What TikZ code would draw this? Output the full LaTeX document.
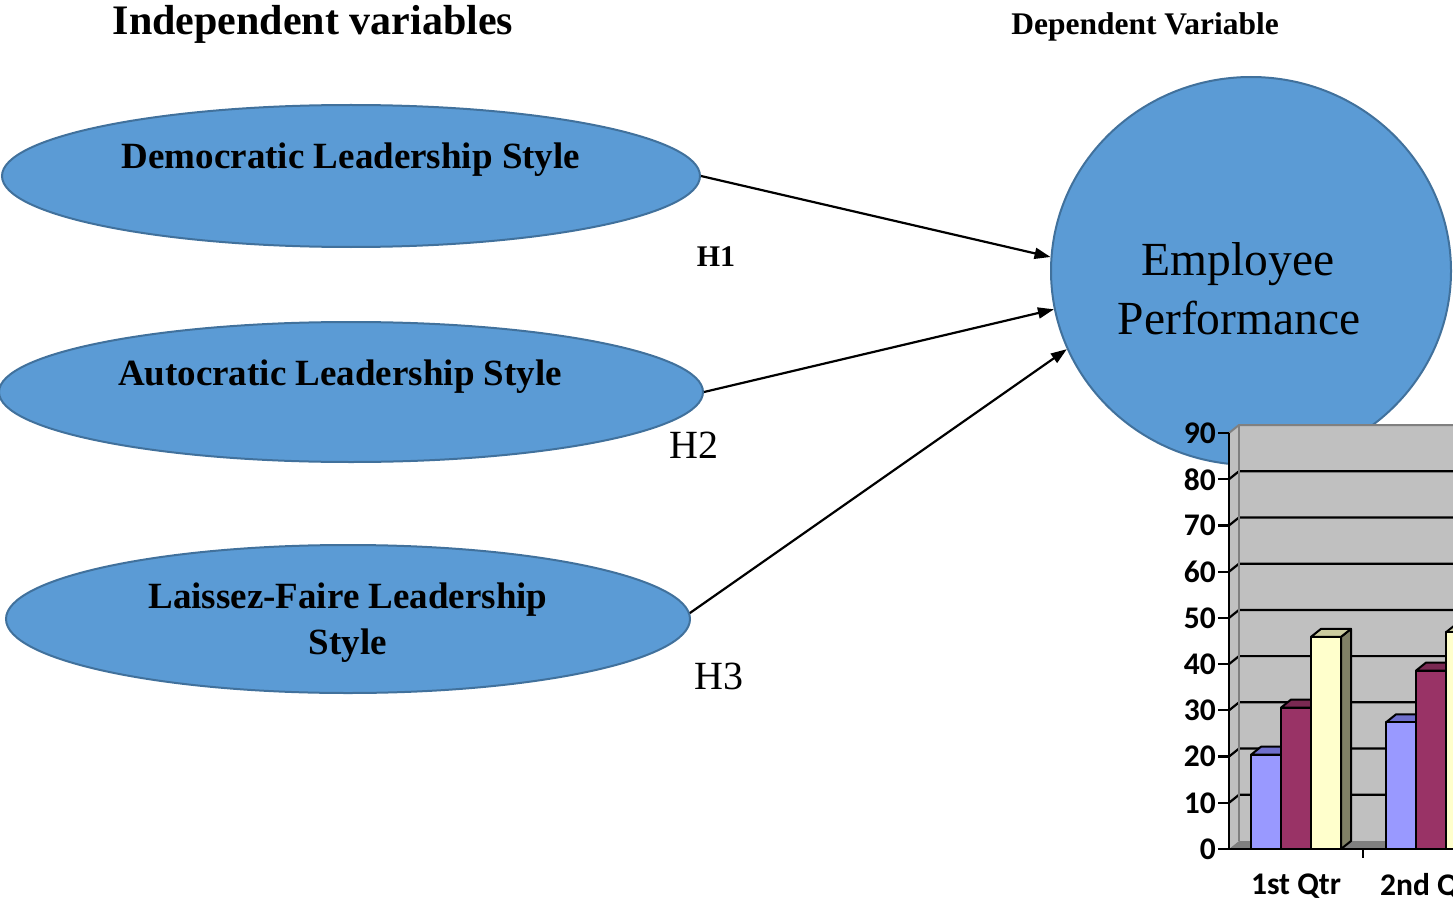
\documentclass[tikz,border=0pt]{standalone}
\usepackage{fontspec}
\setmainfont{Liberation Serif}
\newfontfamily\chartfont{Carlito}
\usetikzlibrary{shapes.geometric,arrows.meta}

\definecolor{varfill}{HTML}{5B9BD5}
\definecolor{varline}{HTML}{41719C}
\definecolor{wallgrey}{HTML}{C0C0C0}
\definecolor{floorgrey}{HTML}{808080}
\definecolor{edgegrey}{HTML}{808080}
% bar colours: front (F), top (T) and side (S) faces
\definecolor{bF}{HTML}{9999FF}\definecolor{bT}{HTML}{6F6FCC}\definecolor{bS}{HTML}{5C5CB0}
\definecolor{mF}{HTML}{993366}\definecolor{mT}{HTML}{7A2952}\definecolor{mS}{HTML}{5C1F3D}
\definecolor{yF}{HTML}{FFFFCC}\definecolor{yT}{HTML}{CCCCA0}\definecolor{yS}{HTML}{808066}

\tikzset{
  varshape/.style={draw=varline, line width=2pt, fill=varfill, inner sep=0pt},
  varellipse/.style={varshape, ellipse},
  vartext/.style={font=\bfseries\fontsize{37}{46}\selectfont, align=center, inner sep=0pt},
  hyp/.style={font=\fontsize{40}{48}\selectfont, inner sep=0pt},
  link/.style={line width=2.2pt, -{Triangle[length=16pt,width=11pt]}},
  axislbl/.style={font=\chartfont\bfseries\fontsize{31.5}{36}\selectfont, inner sep=0pt},
  grid3d/.style={line width=2.2pt, black},
  baredge/.style={draw=black, line width=2pt, line join=round}
}

\begin{document}
\begin{tikzpicture}[x=1pt, y=-1pt]
\useasboundingbox (0,0) rectangle (1453,904);
\begin{scope}
\clip (0,0) rectangle (1453,904);

% headings
\node[font=\bfseries\fontsize{42}{50}\selectfont, inner sep=0pt] (indep) at (313,24) {Independent variables};
\node[font=\bfseries\fontsize{31.5}{38}\selectfont, inner sep=0pt] (dep) at (1145,27) {Dependent Variable};

% independent variables
\node[varellipse, minimum width=698pt, minimum height=142pt] (dem) at (351,176) {};
\node[vartext] (demtext) at (351,160) {Democratic Leadership Style};

\node[varellipse, minimum width=704pt, minimum height=140pt] (aut) at (351,392) {};
\node[vartext] (auttext) at (340,377) {Autocratic Leadership Style};

\node[varellipse, minimum width=684pt, minimum height=148pt] (lf) at (348,619) {};
\node[vartext] (lftext) at (348,623) {Laissez-Faire Leadership\\Style};

% dependent variable
\node[varellipse, minimum width=400pt, minimum height=388pt] (emp) at (1251,271) {};
\node[font=\fontsize{47.5}{59}\selectfont, inner sep=0pt, anchor=base] (emp1) at (1238,275) {Employee};
\node[font=\fontsize{47.5}{59}\selectfont, inner sep=0pt, anchor=base] (emp2) at (1239,334) {Performance};

% hypotheses
\draw[link] (dem.east) -- (emp.176);
\draw[link] (aut.east) -- (emp.191.5);
\draw[link] (lf.1.5) -- (emp.203);

\node[font=\bfseries\fontsize{30}{36}\selectfont, inner sep=0pt] (h1) at (716,257) {H1};
\node[hyp] (h2) at (694,445) {H2};
\node[hyp] (h3) at (719,676) {H3};

% ---- 3-D column chart ----
% walls and floor
\fill[wallgrey] (1239,841) -- (1239,425) -- (1470,425) -- (1470,841) -- cycle;
\fill[wallgrey] (1229,849) -- (1229,433) -- (1239,425) -- (1239,841) -- cycle;
\fill[floorgrey] (1229,849) -- (1239,841) -- (1470,841) -- (1470,849) -- cycle;
% gridlines
\foreach \v in {10,20,...,80} {
  \pgfmathsetmacro{\gy}{849-4.622*\v}
  \draw[grid3d] (1229,\gy) -- (1239,\gy-8) -- (1470,\gy-8);
}
\draw[edgegrey, line width=2pt] (1229,433) -- (1239,425) -- (1470,425);
\draw[edgegrey, line width=2pt] (1239,425) -- (1239,841);

% columns
\foreach \bx/\bv/\col in {1251/20.4/b, 1281/30.6/m, 1311/45.9/y, 1386/27.4/b, 1416/38.6/m, 1446/46.9/y} {
  \pgfmathsetmacro{\by}{849-4.622*\bv}
  \filldraw[baredge, fill=\col S] (\bx+30,849) -- (\bx+30,\by) -- (\bx+40,\by-8) -- (\bx+40,841) -- cycle;
  \filldraw[baredge, fill=\col T] (\bx,\by) -- (\bx+10,\by-8) -- (\bx+40,\by-8) -- (\bx+30,\by) -- cycle;
  \filldraw[baredge, fill=\col F] (\bx,849) rectangle (\bx+30,\by);
}

% axes, ticks and labels
\draw[black, line width=2.5pt] (1229,433) -- (1229,849) -- (1470,849);
\foreach \v in {0,10,...,90} {
  \pgfmathsetmacro{\ty}{849-4.622*\v}
  \draw[black, line width=2.2pt] (1218,\ty) -- (1229,\ty);
  \node[axislbl, anchor=east] (ylbl\v) at (1216,\ty) {\v};
}
\draw[black, line width=2.2pt] (1363,849) -- (1363,858);
\node[axislbl] (q1) at (1296,886) {1st Qtr};
\node[axislbl, anchor=west] (q2) at (1380,886) {2nd Qtr};
\end{scope}
\end{tikzpicture}
\end{document}
